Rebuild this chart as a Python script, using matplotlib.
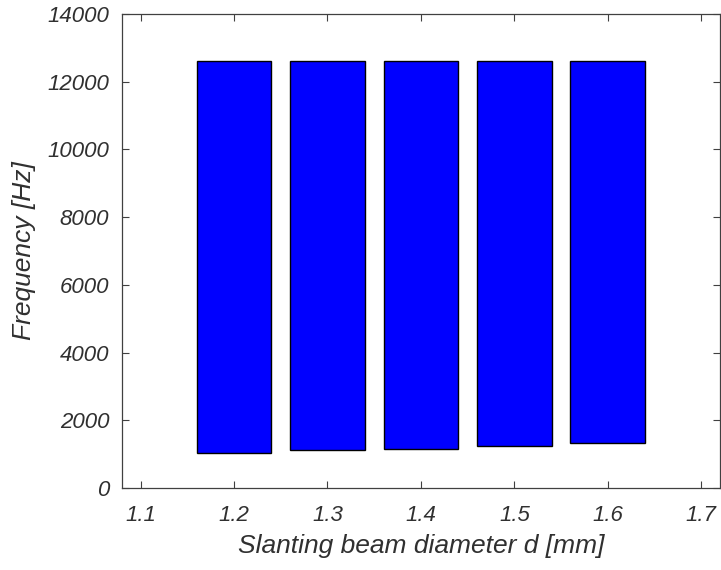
import matplotlib
matplotlib.use("Agg")
import matplotlib.pyplot as plt

# Beam diameters and the frequency band covered at each one
diameters = [1.2, 1.3, 1.4, 1.5, 1.6]
freq_low = [1034, 1113, 1152, 1240, 1329]
freq_high = [12620, 12620, 12620, 12620, 12620]
x_ticks = [1.1, 1.2, 1.3, 1.4, 1.5, 1.6, 1.7]
y_ticks = [0, 2000, 4000, 6000, 8000, 10000, 12000, 14000]

plt.rcParams['font.family'] = ['Liberation Sans', 'DejaVu Sans']

fig = plt.figure(figsize=(7.21, 5.70), dpi=100)
ax = fig.add_axes([0.169, 0.1439, 0.8296, 0.8315])

heights = [h - l for h, l in zip(freq_high, freq_low)]
ax.bar(diameters, heights, bottom=freq_low, width=0.08,
       color='#0000ff', edgecolor='black', linewidth=1.0)

ax.set_xlim(1.08, 1.72)
ax.set_ylim(0, 14000)
ax.set_xticks(x_ticks)
ax.set_yticks(y_ticks)
ax.set_xticklabels([f"{v:.1f}" for v in x_ticks])
ax.set_yticklabels([str(v) for v in y_ticks])

txt = '#303030'
for lab in ax.get_xticklabels() + ax.get_yticklabels():
    lab.set_fontstyle('italic')
    lab.set_fontsize(16)
    lab.set_color(txt)

ax.tick_params(direction='in', top=True, right=True, length=5,
               width=0.8, color='#404040')
ax.tick_params(axis='x', pad=12)
ax.tick_params(axis='y', pad=9)
for s in ax.spines.values():
    s.set_color('#404040')
    s.set_linewidth(0.9)

ax.set_xlabel('Slanting beam diameter d [mm]', fontsize=19,
              fontstyle='italic', color=txt, labelpad=6)
ax.set_ylabel('Frequency [Hz]', fontsize=19, fontstyle='italic',
              color=txt, labelpad=8)

fig.savefig('out.png', dpi=100)
